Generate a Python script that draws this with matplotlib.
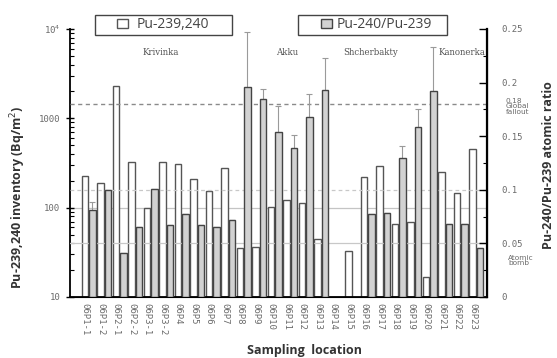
import numpy as np
import matplotlib
matplotlib.use("Agg")
from matplotlib import pyplot as plt
from matplotlib.patches import Rectangle
from matplotlib.ticker import FixedLocator, MultipleLocator, LogLocator, NullFormatter

# Точки отбора проб
sites = ['06P1-1', '06P1-2', '06P2-1', '06P2-2', '06P3-1', '06P3-2', '06P4', '06P5',
         '06P6', '06P7', '06P8', '06P9', '06P10', '06P11', '06P12', '06P13', '06P14',
         '06P15', '06P16', '06P17', '06P18', '06P19', '06P20', '06P21', '06P22', '06P23']

# Запас Pu-239,240, Бк/м2 (nan - нет данных)
inventory = [226, 188, 2307, 327, 100, 327, 309, 208, 155, 276, 35, 36.5, 103,
             122, 114, 45, np.nan, 33, 222, 295, 65, 70, 16.6, 249, 145, 451]

# Отношение Pu-240/Pu-239 и его погрешность
ratio = [0.081, 0.100, 0.041, 0.065, 0.101, 0.067, 0.077, 0.067, 0.065, 0.0715,
         0.196, 0.185, 0.154, 0.139, 0.168, 0.193, np.nan, np.nan, 0.077, 0.078,
         0.130, 0.159, 0.192, 0.068, 0.068, 0.046]
ratio_err = [0.008, 0, 0, 0, 0, 0, 0, 0, 0, 0,
             0.051, 0.009, 0.024, 0.012, 0.021, 0.030, 0, 0, 0, 0,
             0.011, 0.016, 0.041, 0, 0, 0]

regions = ['Krivinka', 'Akku', 'Shcherbakty', 'Kanonerka']
region_x = [0.218, 0.520, 0.722, 0.940]

global_fallout = 0.18
atomic_bomb = 0.05

x = np.arange(len(sites))
w = 0.42
shift = 0.48

fig = plt.figure(figsize=(5.57, 3.58), dpi=100)
ax = fig.add_axes([0.1257, 0.1704, 0.7487, 0.7486])
ax.set_yscale('log')
ax.set_ylim(10, 1e4)
ax.set_xlim(-0.97, 25.94)

# Вспомогательная линия на 100 Бк/м2
ax.axhline(100, color='#c4c4c4', lw=0.9, zorder=0)

white = ax.bar(x, inventory, width=w, color='white', edgecolor='#555555',
               linewidth=1.0, zorder=2)

ax2 = ax.twinx()
ax2.set_ylim(0, 0.25)
ax2.axhline(global_fallout, color='#8a8a8a', lw=1.0, ls=(0, (3, 2.5)), zorder=0)
ax2.axhline(0.1, color='#c8c8c8', lw=0.9, ls=(0, (3, 2.5)), zorder=0)
ax2.axhline(atomic_bomb, color='#c8c8c8', lw=0.9, zorder=0)

ax2.errorbar(x + shift, ratio, yerr=ratio_err, fmt='none', ecolor='#9a9a9a',
             elinewidth=0.8, capsize=2.5, capthick=0.8, zorder=1)
grey = ax2.bar(x + shift, ratio, width=w, color='#d2d2d2', edgecolor='#444444',
               linewidth=1.0, zorder=2)

# Оси и подписи делений
for a in (ax, ax2):
    a.spines['top'].set_visible(False)
ax.spines['left'].set_linewidth(1.3)
ax.spines['bottom'].set_linewidth(1.3)
ax2.spines['right'].set_linewidth(1.6)
ax2.spines['left'].set_visible(False)

tick_font = dict(family='DejaVu Sans Mono', size=6.5, color='#6a6a6a')

ax.yaxis.set_major_locator(FixedLocator([10, 100, 1000, 1e4]))
ax.yaxis.set_minor_locator(LogLocator(base=10, subs=np.arange(2, 10)))
ax.yaxis.set_minor_formatter(NullFormatter())
ax.set_yticklabels(['10', '100', '1000', '10$^4$'], **tick_font)
ax.tick_params(axis='y', which='major', direction='inout', length=6, width=1.0, pad=4)
ax.tick_params(axis='y', which='minor', direction='in', length=3, width=0.8)

ax.set_xticks(x)
ax.set_xticklabels(sites, rotation=270, **tick_font)
ax.tick_params(axis='x', length=0, pad=4)

ax2.yaxis.set_major_locator(FixedLocator([0, 0.05, 0.1, 0.15, 0.2, 0.25]))
ax2.yaxis.set_minor_locator(MultipleLocator(0.025))
ax2.set_yticklabels(['0', '0.05', '0.1', '0.15', '0.2', '0.25'], **tick_font)
ax2.tick_params(axis='y', which='major', direction='in', length=6, width=1.0, pad=10)
ax2.tick_params(axis='y', which='minor', direction='in', length=3, width=0.8)

# Отметки справа: глобальные выпадения и атомная бомба
note_font = dict(family='DejaVu Sans', size=5.3, color='#6a6a6a', linespacing=0.9)
tr = ax2.get_yaxis_transform()
ax2.text(1.045, 0.178, '0.18\nGlobal\nfallout', transform=tr, ha='left', va='center',
         **note_font)
ax2.text(1.05, 0.034, 'Atomic\nbomb', transform=tr, ha='left', va='center', **note_font)

# Районы
for name, rx in zip(regions, region_x):
    ax.text(rx, 0.914, name, transform=ax.transAxes, ha='center', va='center',
            family='DejaVu Serif', size=6.2, color='#555555')

# Легенды: рамки отдельно, подписи через fig.legend
boxes = [(95, 232), (298, 447)]
for x0, x1 in boxes:
    fig.add_artist(Rectangle((x0 / 557, 1 - 35 / 358), (x1 - x0) / 557, 20 / 358,
                             transform=fig.transFigure, facecolor='white',
                             edgecolor='#444444', linewidth=1.0, zorder=1))

leg_kw = dict(loc='center left', bbox_transform=fig.transFigure, frameon=False,
              prop=dict(family='Open Sans', size=10), handlelength=0.8,
              handleheight=0.55, borderpad=0, borderaxespad=0)
leg1 = fig.legend([white], ['Pu-239,240'], bbox_to_anchor=(117 / 557, 1 - 25 / 358),
                  handletextpad=0.6, **leg_kw)
leg2 = fig.legend([grey], ['Pu-240/Pu-239'], bbox_to_anchor=(321 / 557, 1 - 25 / 358),
                  handletextpad=0.3, **leg_kw)
for leg in (leg1, leg2):
    for t in leg.get_texts():
        t.set_color('#444444')

# Подписи осей
label_font = dict(family='Open Sans', weight='bold', size=9, color='#333333')
fig.text(0.033, 0.45, 'Pu-239,240 inventory (Bq/m$^2$)', rotation=90,
         ha='center', va='center', **label_font)
fig.text(0.985, 0.54, 'Pu-240/Pu-239 atomic ratio', rotation=90,
         ha='center', va='center', **label_font)
fig.text(0.546, 0.022, 'Sampling  location', ha='center', va='center', **label_font)

fig.savefig('out.png', dpi=100, facecolor='white')
